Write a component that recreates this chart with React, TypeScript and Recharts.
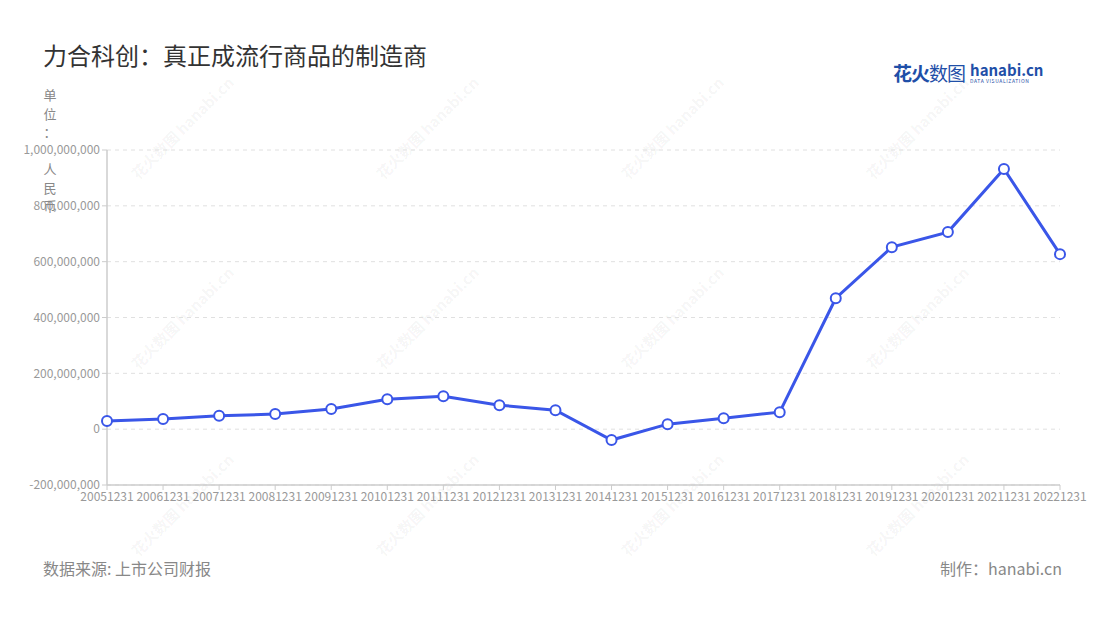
import { LineChart, Line, XAxis, YAxis, CartesianGrid } from "recharts";

const years = [
  "20051231", "20061231", "20071231", "20081231", "20091231", "20101231",
  "20111231", "20121231", "20131231", "20141231", "20151231", "20161231",
  "20171231", "20181231", "20191231", "20201231", "20211231", "20221231",
];

const revenue = [
  29000000, 36000000, 48000000, 54000000, 72000000, 107000000,
  118000000, 86000000, 68000000, -39000000, 18000000, 39000000,
  61000000, 469000000, 652000000, 706000000, 932000000, 627000000,
];

const yTicks = [-200000000, 0, 200000000, 400000000, 600000000, 800000000, 1000000000];

const data = years.map((name, i) => ({ name, value: revenue[i] }));

const FONT = '"Noto Sans CJK SC", "Noto Sans", sans-serif';
const BLUE = "#3a56e8";

// unit label characters, with a gap where the top tick label sits
const unitLabel = ["单", "位", "：", "", "人", "民", "币"];

const markCols = [182, 427, 672, 917];
const markRows = [128, 318, 505];

const Watermark = ({ x, y }: { x: number; y: number }) => (
  <div
    style={{
      position: "absolute",
      left: x - 75,
      top: y - 11,
      width: 150,
      textAlign: "center",
      transform: "rotate(-45deg)",
      color: "rgba(0,0,0,0.05)",
      fontSize: 15,
      fontWeight: 700,
      whiteSpace: "nowrap",
      pointerEvents: "none",
    }}
  >
    花火数图 hanabi.cn
  </div>
);

const App = () => {
  return (
    <div
      style={{
        position: "absolute",
        left: 0,
        top: 0,
        width: 1100,
        height: 620,
        background: "#fff",
        fontFamily: FONT,
        overflow: "hidden",
      }}
    >
      {markRows.map((y) => markCols.map((x) => <Watermark key={`${x}-${y}`} x={x} y={y} />))}
      <div style={{ position: "absolute", left: 43, top: 37, fontSize: 24, color: "#333" }}>
        力合科创：真正成流行商品的制造商
      </div>
      <div
        style={{
          position: "absolute",
          left: 893,
          top: 59,
          display: "flex",
          alignItems: "center",
          color: "#1f4fa8",
        }}
      >
        <span style={{ fontSize: 19, fontWeight: 700, letterSpacing: -1 }}>花火</span>
        <span style={{ fontSize: 19, fontWeight: 400, letterSpacing: -1 }}>数图</span>
        <span style={{ marginLeft: 5, display: "flex", flexDirection: "column", lineHeight: 1 }}>
          <span style={{ fontSize: 15, fontWeight: 700 }}>hanabi.cn</span>
          <span style={{ fontSize: 5, letterSpacing: 0.6, marginTop: 1 }}>DATA VISUALIZATION</span>
        </span>
      </div>
      <div
        style={{
          position: "absolute",
          left: 42,
          top: 86,
          width: 16,
          fontSize: 13,
          lineHeight: "18.5px",
          color: "#888",
          textAlign: "center",
          zIndex: 2,
        }}
      >
        {unitLabel.map((c, i) => (
          <div key={i} style={{ height: 18.5 }}>{c}</div>
        ))}
      </div>
      <div style={{ position: "absolute", left: 0, top: 0 }}>
        <LineChart
          width={1100}
          height={620}
          data={data}
          margin={{ top: 150, right: 40, left: 7, bottom: 105 }}
        >
          <CartesianGrid vertical={false} stroke="#e0e0e0" strokeDasharray="4 4" />
          <XAxis
            dataKey="name"
            interval={0}
            height={30}
            tick={{ fill: "#999", fontSize: 12, fontFamily: FONT }}
            tickLine={{ stroke: "#ccc" }}
            axisLine={{ stroke: "#ccc", strokeWidth: 1.5 }}
            tickSize={5}
          />
          <YAxis
            width={100}
            domain={[-200000000, 1000000000]}
            ticks={yTicks}
            tickFormatter={(v: number) => v.toLocaleString("en-US")}
            tick={{ fill: "#999", fontSize: 12, fontFamily: FONT }}
            tickLine={{ stroke: "#ccc" }}
            axisLine={{ stroke: "#ccc", strokeWidth: 1.5 }}
            tickSize={5}
          />
          <Line
            type="linear"
            dataKey="value"
            stroke={BLUE}
            strokeWidth={3}
            dot={{ r: 5, fill: "#fff", stroke: BLUE, strokeWidth: 2 }}
            isAnimationActive={false}
          />
        </LineChart>
      </div>
      <div style={{ position: "absolute", left: 43, top: 556, fontSize: 16, color: "#888" }}>
        数据来源: 上市公司财报
      </div>
      <div style={{ position: "absolute", right: 38, top: 556, fontSize: 16, color: "#888" }}>
        制作：hanabi.cn
      </div>
    </div>
  );
};

export default App;
